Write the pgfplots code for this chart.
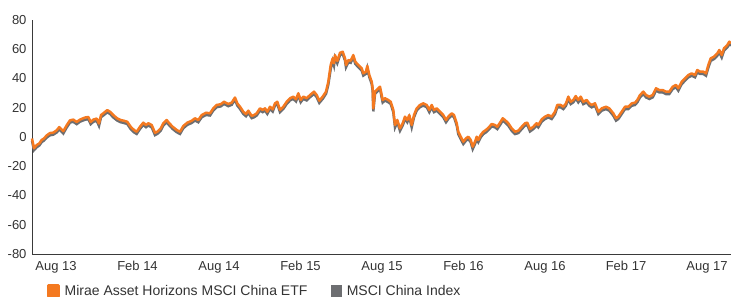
\documentclass[border=0pt]{standalone}
\usepackage{pgfplots}
\pgfplotsset{compat=1.18}
\usepackage{pgfplotstable}
\usepackage{fontspec}
\setmainfont{Liberation Sans}
\definecolor{etf}{HTML}{F47920}
\definecolor{idx}{HTML}{6D6E71}
\definecolor{axc}{HTML}{3A3A3A}
\definecolor{txt}{HTML}{333333}
\pgfplotstableread{
x etf idx
32 -1 -2.5
34 -7.7 -9
36.7 -5.5 -7
39.3 -4.4 -5.8
41.7 -2 -3.5
44 -1 -2.4
46.7 1.1 -0.4
50 2.7 1.2
53.3 3 1.6
56.7 4.6 3.1
59.3 6.8 5.2
61.7 5 3.6
63.3 4 2.4
66.7 8 6.5
70 11.4 9.9
73.3 11.9 10.4
76.7 10.3 8.8
80 11.9 10.5
85 13.3 11.8
88.3 13.7 12.2
90.7 10.3 8.8
93.3 11.9 10.4
96.7 12.6 11.1
99 9.2 7.6
101 15 13.5
104 16.6 15.1
107.3 18.4 16.9
110 17.3 15.8
113.3 15 13.4
117.3 12.7 11.2
120.7 11.6 10.1
124 11.1 9.6
127.3 10.4 8.9
130.7 7 5.4
134 4.8 3.2
136.7 3.6 2.1
140 7 5.5
143.3 9.8 8.3
146 8.2 6.7
148.3 9.4 7.9
151.7 8.2 6.6
155 2.9 1.3
157.3 3.6 2.1
160.7 5.9 4.4
163.3 9.4 7.9
166.7 11.6 10.1
169.3 9.4 7.9
172.7 7 5.5
176.7 4.8 3.3
180 3.6 2.1
183.3 7.5 6
187.3 9.8 8.3
191.7 11.1 9.6
195 12.8 11.3
198.3 11.6 10.1
201.7 15 13.5
206 16.6 15.1
210 16.2 14.7
213.3 19.6 18.1
216.7 21.9 20.4
220.7 22.4 20.9
224 24.1 22.6
228.3 22.6 21.1
231.7 23.5 22
235 27 25.5
237.3 23 21.5
240 20.7 19.2
243.3 17.3 15.8
246 15.7 14.2
248.3 18 16.5
251.7 14.4 12.9
254 15 13.5
256.7 16.2 14.7
260 19.6 18.1
262.7 18.5 17
265 19.6 18.1
267.3 17.3 15.8
270 20.7 19.2
272.7 18.9 17.4
275 23 21.5
277.3 24.1 22.6
280 18.5 17
283.3 20.7 19.2
286.7 24.1 22.6
290 26.5 25
293.3 27.6 26.1
296 25.8 24.3
298.3 29.9 28.4
300.7 25.3 23.8
303.3 27.6 26.1
306.7 26.5 25
310 28.7 27.2
314 31 29.5
316.7 28.7 27.2
319.3 24.8 23.3
322.7 27.6 26.1
326 31 29.5
328.3 37.8 35.8
330.7 49.2 46.5
332.7 53.8 52
334 50.4 48.8
335 56 54.3
337.3 52 50.4
340 57.6 56
342.7 58.3 56.8
345 53.8 52.3
346 49.2 47.7
348.3 52.6 51.1
350.7 52.2 50.7
353.3 56 54.5
355.3 51.5 50
358.3 49.2 47.7
361.7 47 45.5
363.3 43.5 42
366 44.7 43.2
367.3 48.6 47.1
369.3 42.4 40.9
371.7 37.8 36.3
372.7 33.3 31.5
373.3 19.6 17.5
375 31 29.5
377.3 32.6 31.1
380 34.4 32.9
382.7 25.3 23.6
385 26.5 25
388.3 25.3 23.8
390.7 24.1 22.6
393.3 18.5 17
395 8.2 6.5
397.3 11.6 10.1
400 5.9 4.2
402.7 9.4 7.9
405 13.9 12.4
407.3 11.6 10.1
409.3 15 13.5
411.7 8.2 6.6
414 15 13.5
416.7 19.6 18.1
420 21.9 20.4
423.3 23 21.5
426.7 21.9 20.4
429.3 18.5 17
431.7 21.9 20.4
434 18.5 17
436.7 19.6 18.1
440 17.3 15.8
443.3 15 13.5
446 11.6 10.1
448.3 13.9 12.4
451.7 16.2 14.7
454 15 13.5
456.7 9.4 7.9
458.3 3.6 2
460.7 0.2 -1.4
463.3 -3.2 -4.8
466 -0.9 -2.5
468.3 0.2 -1.4
470.7 -2 -3.6
472.7 -6.6 -8.3
475 -3.2 -4.8
476.7 0.2 -1.4
478.3 -2 -3.6
480.7 1.4 -0.2
483.3 3.6 2
486 4.8 3.2
489.3 7 5.4
491.7 8.9 7.3
495 8.2 6.6
497.3 7 5.4
500.7 10.5 8.9
502.7 12.8 11.2
505 11.6 10
508.3 9.4 7.8
511.7 5.9 4.3
515 3.6 2
518.3 4.3 2.7
521.7 7 5.4
525 9.4 7.8
527.3 9.8 8.2
530 5.4 3.8
533.3 7 5.4
536.5 9.4 7.8
538.3 8.2 6.6
541.7 12.1 10.5
545 13.9 12.3
548.3 15 13.4
551.7 13.9 12.3
555 17.3 15.7
557.3 21.9 20.3
560.7 21.9 20.3
563.3 20.7 19.1
566 23 21.4
568.3 27.6 26
570.7 24.1 22.5
573.3 25.3 23.7
575.7 28 26.4
578.3 25.3 23.7
580.7 27.6 26
583.3 24.1 22.5
586.7 25.3 23.7
589.3 23 21.4
591.7 21.9 20.3
595 23 21.4
598.3 17.3 15.7
601.7 19.6 18
606 20.7 19.1
609.3 19.6 18
613.3 16.2 14.6
616 12.8 11.2
618.3 13.9 12.3
621.7 17.3 15.7
625 20.7 19.1
628.3 20.7 19.1
631.7 23 21.4
635 23.5 21.9
637.3 25.3 23.7
640 28.7 27.1
643.3 31 29.4
646 28.7 27.1
649.3 27.6 26
652.7 28.7 27.1
656 33.3 31.7
659.3 32.1 30.5
662.7 32.1 30.5
666 31 29.4
669.3 31 29.4
672.7 34.4 32.8
676 35.6 34
678.3 33.3 31.7
681.7 37.8 36.2
685 40.1 38.5
688.3 42.4 40.8
691.7 43.5 41.9
695 42.4 40.8
697.3 45.8 44.2
700 44.7 43.1
703.3 44.7 43.1
706 43.5 41.9
708.3 49.2 47.4
710.7 53.8 52.1
714 54.9 53.3
717.3 57.2 55.6
719.3 59.5 57.9
721.7 56 54.4
724 60.7 59.1
727.3 62.9 61.3
729.3 65.2 63.6
731 64.1 62.5
}\datatable
\begin{document}
\begin{tikzpicture}
\path[use as bounding box] (0,0) rectangle (731bp,297bp);
\begin{axis}[
  at={(32bp,43bp)}, anchor=south west,
  scale only axis, width=699bp, height=234bp,
  xmin=32, xmax=731, ymin=-80, ymax=80,
  axis x line*=bottom, axis y line*=left,
  axis line style={axc, line width=1pt, -},
  major tick length=0pt,
  ytick={-80,-60,...,80},
  xtick={56,137.5,219,300.5,382,463.5,545,626,707},
  xticklabels={Aug 13,Feb 14,Aug 14,Feb 15,Aug 15,Feb 16,Aug 16,Feb 17,Aug 17},
  /pgf/number format/assume math mode=true,
  tick label style={font=\fontsize{13bp}{15bp}\selectfont, text=txt},
  xticklabel style={yshift=-4bp},
  yticklabel style={xshift=-2bp},
  clip=false,
  legend style={at={(15bp,-29bp)}, anchor=north west, draw=none, fill=none,
    font=\fontsize{14bp}{16bp}\selectfont, text=txt, inner sep=0pt,
    /tikz/every odd column/.append style={column sep=3bp},
    /tikz/every even column/.append style={column sep=22bp}},
  legend cell align=left,
  legend columns=2,
  legend image code/.code={\fill[#1] (0bp,-5.5bp) rectangle (10bp,5.5bp);},
]
\addplot[idx, line width=2.5pt, forget plot] table[x=x,y=idx]{\datatable};
\addplot[etf, line width=2.5pt, line join=round] table[x=x,y=etf]{\datatable};
\addlegendentry{Mirae Asset Horizons MSCI China ETF}
\addlegendimage{idx}
\addlegendentry{MSCI China Index}
\end{axis}
\end{tikzpicture}
\end{document}
